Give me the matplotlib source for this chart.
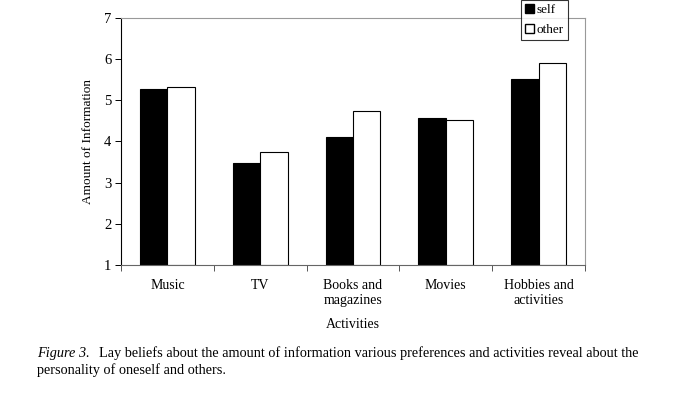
import matplotlib
matplotlib.use("Agg")
import matplotlib.pyplot as plt
from matplotlib.patches import Patch
import numpy as np

categories = ["Music", "TV", "Books and\nmagazines", "Movies", "Hobbies and\nactivities"]
self_vals = [5.27, 3.48, 4.10, 4.57, 5.51]
other_vals = [5.32, 3.74, 4.74, 4.52, 5.90]
yticks = [1, 2, 3, 4, 5, 6, 7]

plt.rcParams['font.family'] = ['Liberation Serif', 'DejaVu Serif']

fig = plt.figure(figsize=(6.78, 4.0), dpi=100)
ax = fig.add_axes([121/678, 135/400, 464/678, 247/400])

x = np.arange(len(categories))
w = 0.295
ax.bar(x - w/2, [v - 1 for v in self_vals], w, bottom=1, color='black', edgecolor='black', linewidth=0.8)
ax.bar(x + w/2, [v - 1 for v in other_vals], w, bottom=1, color='white', edgecolor='black', linewidth=0.8)

ax.set_xlim(-0.5, len(categories) - 0.5)
ax.set_ylim(1, 7)
ax.set_yticks(yticks)
ax.set_yticklabels([str(t) for t in yticks], fontsize=10.5)
ax.set_xticks(x)
ax.set_xticklabels(categories, fontsize=10, linespacing=1.2)
ax.set_xticks(np.arange(-0.5, len(categories)), minor=True)
ax.tick_params(axis='x', which='major', length=0, pad=10)
ax.tick_params(axis='x', which='minor', length=4, direction='out', color='#555555', width=0.7)
ax.tick_params(axis='y', length=4, direction='out', width=0.7, pad=3)

ax.spines['left'].set_color('black')
ax.spines['left'].set_linewidth(0.8)
ax.spines['bottom'].set_color('#666666')
ax.spines['bottom'].set_linewidth(0.8)
for s in ['top', 'right']:
    ax.spines[s].set_color('#999999')
    ax.spines[s].set_linewidth(0.8)

ax.set_ylabel("Amount of Information", fontsize=9.5, labelpad=7)
ax.set_xlabel("Activities", fontsize=10, labelpad=8)

handles = [Patch(facecolor='black', edgecolor='black', label='self'),
           Patch(facecolor='white', edgecolor='black', label='other')]
leg = fig.legend(handles=handles, loc='upper left', bbox_to_anchor=(521/678, 1.0),
                 fontsize=9.5, frameon=True, fancybox=False, handlelength=0.7, handleheight=0.7,
                 handletextpad=0.2, borderpad=0.3, labelspacing=0.6, borderaxespad=0)
leg.get_frame().set_edgecolor('black')
leg.get_frame().set_linewidth(0.8)

cap_y1 = 1 - 353/400
cap_y2 = 1 - 370/400
t1 = fig.text(37/678, cap_y1, "Figure 3.", fontsize=10.3, style='italic', va='center')
fig.canvas.draw()
bb = t1.get_window_extent()
fig.text((bb.x1 + 9)/678, cap_y1,
         "Lay beliefs about the amount of information various preferences and activities reveal about the",
         fontsize=10.3, va='center')
fig.text(37/678, cap_y2, "personality of oneself and others.", fontsize=10.3, va='center')

fig.savefig("out.png", dpi=100)
